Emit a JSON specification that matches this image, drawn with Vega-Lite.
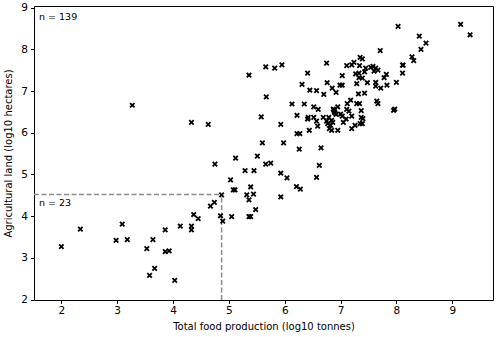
{
  "$schema": "https://vega.github.io/schema/vega-lite/v6.json",
  "width": 459,
  "height": 294,
  "autosize": {"type": "none"},
  "padding": {"left": 34, "top": 6, "right": 7, "bottom": 37},
  "background": "white",
  "config": {
    "font": "DejaVu Sans",
    "view": {"stroke": "black", "strokeWidth": 1},
    "axis": {"grid": false, "domain": false, "tickColor": "black", "tickSize": 3.5, "labelColor": "black", "titleColor": "black", "labelFontSize": 10.5, "titleFontSize": 10, "titleFontWeight": "normal", "labelFont": "DejaVu Sans", "titleFont": "DejaVu Sans"}
  },
  "datasets": {
    "pts": [
      {"x": 2.00, "y": 3.27}, {"x": 2.34, "y": 3.69}, {"x": 2.98, "y": 3.42}, {"x": 3.09, "y": 3.81}, {"x": 3.18, "y": 3.44},
      {"x": 3.53, "y": 3.22}, {"x": 3.64, "y": 3.44}, {"x": 3.58, "y": 2.58}, {"x": 3.67, "y": 2.75}, {"x": 3.86, "y": 3.67},
      {"x": 3.86, "y": 3.15}, {"x": 3.93, "y": 3.17}, {"x": 4.03, "y": 2.46}, {"x": 4.13, "y": 3.76}, {"x": 4.33, "y": 3.76},
      {"x": 4.33, "y": 3.67}, {"x": 4.37, "y": 4.04}, {"x": 4.45, "y": 3.94}, {"x": 4.67, "y": 4.24}, {"x": 4.74, "y": 4.33},
      {"x": 4.85, "y": 4.01}, {"x": 4.89, "y": 3.88}, {"x": 4.87, "y": 4.51},
      {"x": 3.27, "y": 6.66}, {"x": 4.33, "y": 6.25}, {"x": 4.63, "y": 6.20}, {"x": 5.58, "y": 6.38}, {"x": 6.13, "y": 6.69},
      {"x": 6.35, "y": 6.69}, {"x": 6.52, "y": 6.62}, {"x": 6.60, "y": 6.56}, {"x": 5.93, "y": 6.20}, {"x": 6.22, "y": 6.42},
      {"x": 6.41, "y": 6.33}, {"x": 6.57, "y": 6.28}, {"x": 6.59, "y": 6.16}, {"x": 6.22, "y": 5.98}, {"x": 6.27, "y": 5.98},
      {"x": 6.44, "y": 6.06}, {"x": 5.60, "y": 5.76}, {"x": 5.98, "y": 5.76}, {"x": 6.26, "y": 5.61}, {"x": 4.75, "y": 5.25},
      {"x": 5.12, "y": 5.39}, {"x": 5.51, "y": 5.44}, {"x": 5.66, "y": 5.25}, {"x": 5.75, "y": 5.27}, {"x": 5.29, "y": 5.09},
      {"x": 5.45, "y": 5.09}, {"x": 5.03, "y": 4.87}, {"x": 5.08, "y": 4.63}, {"x": 5.11, "y": 4.63}, {"x": 5.39, "y": 4.70},
      {"x": 5.32, "y": 4.51}, {"x": 5.44, "y": 4.53}, {"x": 5.36, "y": 4.39}, {"x": 5.93, "y": 5.03}, {"x": 6.04, "y": 4.92},
      {"x": 6.21, "y": 4.71}, {"x": 6.28, "y": 4.65}, {"x": 5.93, "y": 4.46}, {"x": 6.62, "y": 5.22}, {"x": 6.57, "y": 4.93},
      {"x": 5.48, "y": 4.16}, {"x": 5.05, "y": 3.99}, {"x": 5.36, "y": 3.99}, {"x": 5.39, "y": 3.99}, {"x": 5.36, "y": 7.38},
      {"x": 5.66, "y": 7.58}, {"x": 5.82, "y": 7.55}, {"x": 5.95, "y": 7.63}, {"x": 6.41, "y": 7.43}, {"x": 6.31, "y": 7.16},
      {"x": 6.45, "y": 7.02}, {"x": 5.67, "y": 6.86}, {"x": 7.71, "y": 7.97}, {"x": 6.75, "y": 7.67}, {"x": 6.57, "y": 7.01},
      {"x": 6.70, "y": 6.92}, {"x": 6.76, "y": 7.20}, {"x": 6.85, "y": 7.07}, {"x": 6.92, "y": 6.97}, {"x": 6.99, "y": 7.14},
      {"x": 7.03, "y": 7.14}, {"x": 7.03, "y": 7.37}, {"x": 7.11, "y": 7.61}, {"x": 7.20, "y": 7.63}, {"x": 7.24, "y": 7.69},
      {"x": 7.35, "y": 7.81}, {"x": 7.39, "y": 7.77}, {"x": 7.34, "y": 7.61}, {"x": 7.27, "y": 7.41}, {"x": 7.33, "y": 7.43},
      {"x": 7.43, "y": 7.46}, {"x": 7.54, "y": 7.57}, {"x": 7.58, "y": 7.59}, {"x": 7.63, "y": 7.55}, {"x": 7.67, "y": 7.50},
      {"x": 7.39, "y": 7.31}, {"x": 7.33, "y": 7.32}, {"x": 7.48, "y": 7.20}, {"x": 7.63, "y": 7.21}, {"x": 7.63, "y": 7.12},
      {"x": 7.72, "y": 7.07}, {"x": 7.78, "y": 7.32}, {"x": 7.82, "y": 7.40}, {"x": 7.83, "y": 7.14}, {"x": 8.00, "y": 7.21},
      {"x": 8.11, "y": 7.62}, {"x": 8.11, "y": 7.43}, {"x": 7.29, "y": 7.18}, {"x": 7.32, "y": 6.93}, {"x": 7.43, "y": 6.95},
      {"x": 7.34, "y": 6.70}, {"x": 7.29, "y": 6.70}, {"x": 7.18, "y": 6.78}, {"x": 7.12, "y": 6.70}, {"x": 7.37, "y": 6.53},
      {"x": 7.65, "y": 6.76}, {"x": 7.67, "y": 6.70}, {"x": 7.97, "y": 6.57}, {"x": 6.87, "y": 6.57}, {"x": 6.89, "y": 6.50},
      {"x": 6.92, "y": 6.44}, {"x": 7.00, "y": 6.45}, {"x": 7.03, "y": 6.40}, {"x": 7.11, "y": 6.56}, {"x": 7.15, "y": 6.52},
      {"x": 7.20, "y": 6.40}, {"x": 7.37, "y": 6.37}, {"x": 6.69, "y": 6.37}, {"x": 6.79, "y": 6.37}, {"x": 6.84, "y": 6.30},
      {"x": 6.77, "y": 6.22}, {"x": 6.82, "y": 6.18}, {"x": 6.86, "y": 6.25}, {"x": 6.80, "y": 6.10}, {"x": 6.84, "y": 6.06},
      {"x": 7.05, "y": 6.25}, {"x": 7.40, "y": 6.34}, {"x": 7.39, "y": 6.22}, {"x": 7.35, "y": 6.22}, {"x": 7.26, "y": 6.18},
      {"x": 7.20, "y": 6.10}, {"x": 6.95, "y": 6.06}, {"x": 6.65, "y": 5.64}, {"x": 7.95, "y": 6.54}, {"x": 8.03, "y": 8.55},
      {"x": 9.15, "y": 8.60}, {"x": 9.32, "y": 8.35}, {"x": 8.41, "y": 8.32}, {"x": 8.53, "y": 8.15}, {"x": 8.44, "y": 8.00},
      {"x": 8.28, "y": 7.82}, {"x": 8.31, "y": 7.73}, {"x": 6.88, "y": 6.54}, {"x": 7.10, "y": 6.33}, {"x": 6.75, "y": 6.28},
      {"x": 6.95, "y": 6.62}, {"x": 7.45, "y": 7.55}, {"x": 7.60, "y": 7.48}, {"x": 6.42, "y": 6.37}, {"x": 6.52, "y": 6.37},
      {"x": 6.90, "y": 6.48}, {"x": 8.12, "y": 7.62}
    ],
    "lines": [
      {"x": 1.51, "x2": 4.87, "y": 4.52, "y2": 4.52},
      {"x": 4.87, "x2": 4.87, "y": 1.99, "y2": 4.52}
    ],
    "labels": [
      {"x": 1.6, "y": 8.78, "label": "n = 139"},
      {"x": 1.6, "y": 4.32, "label": "n = 23"}
    ]
  },
  "layer": [
    {
      "data": {"name": "lines"},
      "mark": {"type": "rule", "color": "#8c8c8c", "strokeWidth": 1.5, "strokeDash": [5, 2.5]},
      "encoding": {
        "x": {"field": "x", "type": "quantitative"},
        "x2": {"field": "x2"},
        "y": {"field": "y", "type": "quantitative"},
        "y2": {"field": "y2"}
      }
    },
    {
      "data": {"name": "pts"},
      "mark": {"type": "point", "shape": "M-1,-1L1,1M1,-1L-1,1", "filled": false, "stroke": "black", "strokeWidth": 1.8, "size": 20, "opacity": 1},
      "encoding": {
        "x": {"field": "x", "type": "quantitative", "scale": {"domain": [1.51, 9.73], "nice": false, "zero": false}, "axis": {"values": [2, 3, 4, 5, 6, 7, 8, 9], "format": "d", "title": "Total food production (log10 tonnes)", "labelPadding": 2, "titlePadding": 5}},
        "y": {"field": "y", "type": "quantitative", "scale": {"domain": [1.99, 9.04], "nice": false, "zero": false}, "axis": {"values": [2, 3, 4, 5, 6, 7, 8, 9], "format": "d", "title": "Agricultural land (log10 hectares)", "labelPadding": 3, "titlePadding": 7}}
      }
    },
    {
      "data": {"name": "labels"},
      "mark": {"type": "text", "align": "left", "baseline": "middle", "fontSize": 9.5, "font": "DejaVu Sans", "color": "black"},
      "encoding": {
        "x": {"field": "x", "type": "quantitative"},
        "y": {"field": "y", "type": "quantitative"},
        "text": {"field": "label"}
      }
    }
  ]
}
